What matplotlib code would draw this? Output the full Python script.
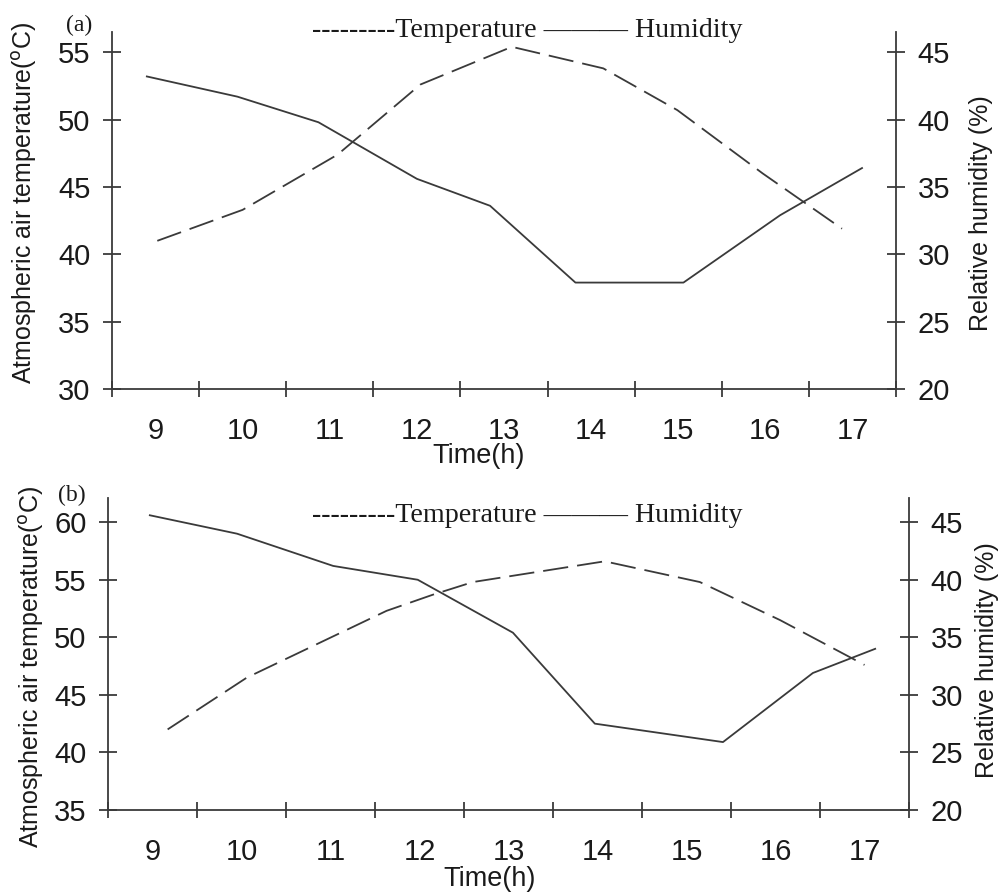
import matplotlib
matplotlib.use("Agg")
import matplotlib.pyplot as plt
from matplotlib.ticker import FixedLocator, NullFormatter

W, H = 1003, 893

# panel (a) readings
time_a_temp = [9.02, 10.0, 11.09, 12.04, 13.09, 14.14, 14.99, 15.97, 16.88]
temp_a = [41.0, 43.3, 47.4, 52.6, 55.4, 53.8, 50.7, 46.0, 41.9]
time_a_hum = [8.90, 9.94, 10.87, 12.00, 12.84, 13.82, 15.06, 16.17, 17.11]
hum_a = [43.2, 41.7, 39.8, 35.6, 33.6, 27.9, 27.9, 32.9, 36.4]

# panel (b) readings
time_b_temp = [9.17, 10.06, 11.63, 12.15, 12.60, 14.08, 15.15, 16.05, 17.0]
temp_b = [42.0, 46.5, 52.3, 53.7, 54.8, 56.6, 54.8, 51.5, 47.6]
time_b_hum = [8.97, 9.95, 11.03, 11.98, 13.05, 13.97, 15.41, 16.42, 17.12]
hum_b = [45.6, 44.0, 41.2, 40.0, 35.4, 27.5, 25.9, 31.9, 34.0]

hours = list(range(9, 18))
temp_ticks_a = [30, 35, 40, 45, 50, 55]
temp_ticks_b = [35, 40, 45, 50, 55, 60]
hum_ticks = [20, 25, 30, 35, 40, 45]

line_col = "#3a3a3a"
sans = "Liberation Sans"
serif = "Liberation Serif"

fig = plt.figure(figsize=(W / 100, H / 100), dpi=100)


def px_rect(left, top, right, bottom):
    return [left / W, 1 - bottom / H, (right - left) / W, (bottom - top) / H]


def fx(x):
    return x / W


def fy(y):
    return 1 - y / H


def panel(rect, t_temp, temp, t_hum, hum, temp_ticks, ylim_t, ylim_h):
    ax = fig.add_axes(rect)
    ax2 = ax.twinx()
    ax.plot(t_temp, temp, color=line_col, lw=1.3, dashes=(14, 5))
    ax2.plot(t_hum, hum, color=line_col, lw=1.3)

    ax.set_xlim(8.5, 17.5)
    ax.set_ylim(*ylim_t)
    ax2.set_ylim(*ylim_h)
    ax.xaxis.set_major_locator(FixedLocator([h + 0.5 for h in range(8, 18)]))
    ax.xaxis.set_major_formatter(NullFormatter())
    ax.xaxis.set_minor_locator(FixedLocator(hours))
    ax.set_xticklabels([str(h) for h in hours], minor=True)
    ax.set_yticks(temp_ticks)
    ax2.set_yticks(hum_ticks)

    for a in (ax, ax2):
        a.spines["top"].set_visible(False)
        for s in a.spines.values():
            s.set_color(line_col)
            s.set_linewidth(1.3)
    ax.spines["right"].set_visible(False)
    ax2.spines["left"].set_visible(False)
    ax2.spines["bottom"].set_visible(False)

    ax.tick_params(axis="x", which="major", direction="inout", length=11.5,
                   width=1.3, color=line_col)
    ax.tick_params(axis="x", which="minor", direction="out", length=0, pad=20,
                   labelsize=21, labelcolor="#1a1a1a")
    ax.tick_params(axis="y", direction="inout", length=13, width=1.3,
                   color=line_col, pad=9, labelsize=21, labelcolor="#1a1a1a")
    ax2.tick_params(axis="y", direction="inout", length=13, width=1.3,
                    color=line_col, pad=9, labelsize=21, labelcolor="#1a1a1a")
    for lab in ax.get_xticklabels(minor=True) + ax.get_yticklabels() + ax2.get_yticklabels():
        lab.set_fontfamily(sans)
    return ax, ax2


panel(px_rect(112, 32, 896, 389), time_a_temp, temp_a, time_a_hum, hum_a,
      temp_ticks_a, (30, 56.5), (20, 46.5))
panel(px_rect(108, 498, 909, 810), time_b_temp, temp_b, time_b_hum, hum_b,
      temp_ticks_b, (35, 62.1), (20, 47.1))

ylab_t = r"Atmospheric air temperature($^{\rm o}$C)"
ylab_h = "Relative humidity (%)"
for (lx, ly), (rx, ry), (tx, ty), (px, py), tag, (lgy) in [
    ((25, 203), (981, 213), (479, 456), (79, 25), "(a)", 37),
    ((32, 667), (987, 660), (490, 879), (72, 495), "(b)", 522),
]:
    fig.text(fx(lx), fy(ly), ylab_t, rotation=90, ha="center", va="center",
             fontsize=18, family=sans, color="#1a1a1a")
    fig.text(fx(rx), fy(ry), ylab_h, rotation=90, ha="center", va="center",
             fontsize=18, family=sans, color="#1a1a1a")
    fig.text(fx(tx), fy(ty), "Time(h)", ha="center", va="center",
             fontsize=19.5, family=sans, color="#1a1a1a")
    fig.text(fx(px), fy(py), tag, ha="center", va="center",
             fontsize=17, family=serif, color="#1a1a1a")
    fig.text(fx(312), fy(lgy), "---------Temperature \u2014\u2014\u2014 Humidity",
             ha="left", va="baseline", fontsize=20.2, family=serif, color="#1a1a1a")

fig.savefig("out.png", dpi=100)
